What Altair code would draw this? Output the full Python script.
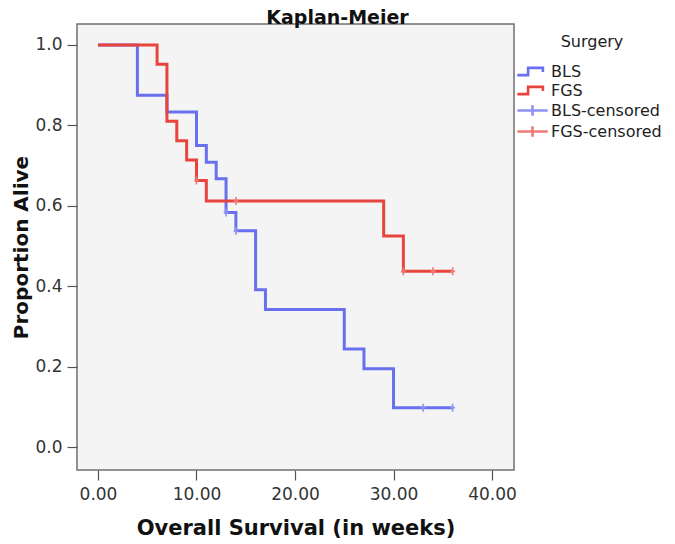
import altair as alt
import pandas as pd

# Kaplan-Meier step data
bls_t = [0, 4, 7, 10, 11, 12, 13, 14, 16, 17, 25, 27, 30, 36]
bls_s = [1.0, 0.875, 0.833, 0.750, 0.708, 0.667, 0.583, 0.538, 0.391, 0.342, 0.244, 0.195, 0.098, 0.098]
fgs_t = [0, 6, 7, 8, 9, 10, 11, 29, 31, 36]
fgs_s = [1.0, 0.952, 0.810, 0.762, 0.714, 0.663, 0.612, 0.525, 0.437, 0.437]

# censored observations
bls_ct = [13, 14, 33, 36]
bls_cs = [0.583, 0.538, 0.098, 0.098]
fgs_ct = [10, 14, 31, 34, 36]
fgs_cs = [0.663, 0.612, 0.437, 0.437, 0.437]

series = ["BLS", "FGS", "BLS-censored", "FGS-censored"]
colors = ["#6870ee", "#e8443e", "#8d93f2", "#ef7b77"]
x_ticks = [0, 10, 20, 30, 40]
y_ticks = [0.0, 0.2, 0.4, 0.6, 0.8, 1.0]

lines = pd.DataFrame(
    {"t": bls_t + fgs_t, "s": bls_s + fgs_s,
     "series": ["BLS"] * len(bls_t) + ["FGS"] * len(fgs_t)}
)
cens = pd.DataFrame(
    {"t": bls_ct + fgs_ct, "s": bls_cs + fgs_cs,
     "series": ["BLS-censored"] * len(bls_ct) + ["FGS-censored"] * len(fgs_ct)}
)

step_path = "M-1.9,0.45L-0.55,0.45L-0.55,-0.45L1.3,-0.45L1.3,0.05"
cross_path = "M-1.9,0L1.9,0M0,-0.65L0,0.65"
tick_path = "M0,-1L0,1M-0.6,0L0.6,0"

xscale = alt.Scale(domain=[-2.13, 42.23], nice=False, zero=False)
yscale = alt.Scale(domain=[-0.057, 1.052], nice=False, zero=False)
cscale = alt.Scale(domain=series, range=colors)

X = alt.X("t:Q", scale=xscale,
          axis=alt.Axis(title="Overall Survival (in weeks)", values=x_ticks, format=".2f"))
Y = alt.Y("s:Q", scale=yscale,
          axis=alt.Axis(title="Proportion Alive", values=y_ticks, format=".1f"))

legend_layer = alt.Chart(cens).mark_point(size=0, filled=False, opacity=1).encode(
    x=X, y=Y,
    color=alt.Color("series:N", scale=cscale, title="Surgery",
                    legend=alt.Legend(orient="none", legendX=446, legendY=10,
                                      titleAnchor="middle", symbolSize=256,
                                      labelOffset=9, rowPadding=0, titlePadding=12,
                                      padding=0, symbolOpacity=1)),
    shape=alt.Shape("series:N", title="Surgery",
                    scale=alt.Scale(domain=series, range=[step_path, step_path, cross_path, cross_path])),
    strokeWidth=alt.StrokeWidth("series:O", title="Surgery",
                                scale=alt.Scale(domain=series, range=[2.6, 2.6, 1.1, 1.1])),
)

line_layer = alt.Chart(lines).mark_line(interpolate="step-after", strokeWidth=3).encode(
    x=X, y=Y, color=alt.Color("series:N", scale=cscale, legend=None),
    detail="series:N"
)

cens_layer = alt.Chart(cens).mark_point(shape=tick_path, size=64, filled=False, strokeWidth=1.6, opacity=1).encode(
    x=X, y=Y, color=alt.Color("series:N", scale=cscale, legend=None)
)

chart = alt.layer(legend_layer, line_layer, cens_layer).resolve_legend(
    color="independent", shape="independent", strokeWidth="independent"
).properties(
    width=437, height=446,
    title=alt.TitleParams("Kaplan-Meier", fontSize=19, fontWeight="bold", font="DejaVu Sans",
                          color="#111", anchor="middle", dx=42, offset=-4),
    autosize=alt.AutoSizeParams(type="none"),
    padding={"left": 69, "top": 16, "right": 150, "bottom": 74},
).configure(background="white").configure_view(
    fill="#f4f4f4", stroke="#707070", strokeWidth=1.5
).configure_axis(
    domain=False, grid=False, tickColor="#555", tickWidth=1.2, tickSize=10,
    labelFont="DejaVu Sans", labelFontSize=17, labelColor="#333", labelPadding=3,
    titleFont="DejaVu Sans", titleFontSize=21, titleFontWeight="bold", titleColor="#111",
).configure_axisY(titlePadding=3, labelPadding=5, titleFontSize=20).configure_axisX(
    titlePadding=15, labelPadding=6
).configure_legend(
    labelFont="DejaVu Sans", labelFontSize=16, labelColor="#222",
    titleFont="DejaVu Sans", titleFontSize=16, titleFontWeight="normal", titleColor="#222",
)

chart.save("out.html", embed_options={"renderer": "svg", "actions": False})
